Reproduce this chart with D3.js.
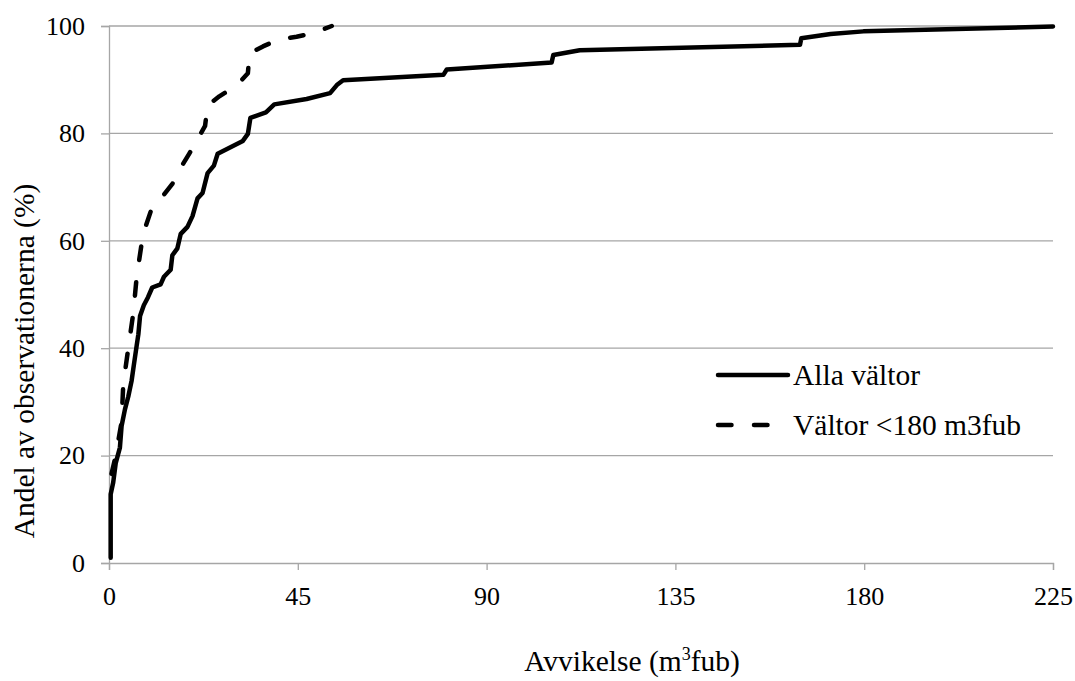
<!DOCTYPE html>
<html>
<head>
<meta charset="utf-8">
<script src="https://cdn.jsdelivr.net/npm/d3@7"></script>
<style>
  body { margin: 0; background: #fff; }
</style>
</head>
<body>
<div id="chart"></div>
<script>
// Cumulative share of observations vs deviation (m3fub)
const allaX = [0.4, 0.4, 1.0, 1.6, 2.6, 3.0, 3.8, 4.6, 5.4, 6.0, 6.6, 7.0, 7.4, 8.3, 9.3, 10.3, 12.3, 13.1, 14.7, 15.1,
  16.3, 17.1, 18.7, 19.9, 21.1, 22.3, 23.5, 25.0, 25.9, 31.9, 33.1, 33.7, 37.4, 39.4, 47.1, 52.7, 54.3, 55.8,
  79.7, 80.5, 105.5, 105.9, 112.2, 164.7, 165.0, 172.0, 179.8, 225.0];
const allaY = [1.0, 12.8, 15.0, 18.6, 21.5, 25.5, 28.6, 31.0, 34.0, 37.3, 40.5, 42.6, 46.0, 48.0, 49.5, 51.3, 51.9, 53.3, 54.6, 57.3,
  58.6, 61.3, 62.6, 64.6, 67.9, 68.9, 72.6, 74.0, 76.2, 78.6, 79.9, 82.9, 83.9, 85.4, 86.4, 87.5, 89.0, 89.9,
  90.9, 91.9, 93.2, 94.6, 95.5, 96.5, 97.7, 98.5, 99.0, 99.9];

const smallX = [0.6, 1.6, 3.0, 3.4, 4.6, 5.8, 6.6, 7.8, 8.7, 10.0, 12.7, 15.1, 17.1, 19.1, 21.1, 22.9, 23.5, 26.3,
  30.4, 33.1, 33.5, 36.7, 40.5, 44.7, 48.7, 53.1];
const smallY = [16.6, 20.0, 26.3, 33.3, 40.0, 46.6, 53.3, 59.6, 62.6, 65.6, 68.2, 70.6, 73.6, 76.2, 78.9, 81.4, 85.2, 86.9,
  88.9, 91.2, 94.9, 96.2, 97.5, 98.0, 98.7, 100.0];

const xTicks = [0, 45, 90, 135, 180, 225];
const yTicks = [0, 20, 40, 60, 80, 100];
const seriesNames = ["Alla vältor", "Vältor <180 m3fub"];

const width = 1075, height = 681;
const margin = { top: 26, right: 22, bottom: 118, left: 109 };
const fontFam = "'Liberation Serif', 'Times New Roman', Tinos, serif";
const dash = "13.5,22.5";

const svg = d3.select("#chart").append("svg")
  .attr("width", width)
  .attr("height", height)
  .style("font-family", fontFam);

const x = d3.scaleLinear().domain([0, 225]).range([margin.left, width - margin.right]);
const y = d3.scaleLinear().domain([0, 100]).range([height - margin.bottom, margin.top]);

const gridColor = "#a6a6a6";

// horizontal gridlines
svg.append("g")
  .selectAll("line")
  .data(yTicks.filter(d => d > 0))
  .enter().append("line")
  .attr("x1", x(0)).attr("x2", x(225))
  .attr("y1", d => y(d)).attr("y2", d => y(d))
  .attr("stroke", gridColor)
  .attr("stroke-width", 1.3);

// x axis
const xAxis = svg.append("g")
  .attr("transform", `translate(0,${y(0)})`)
  .call(d3.axisBottom(x).tickValues(xTicks).tickSize(7).tickPadding(17));

// y axis
const yAxis = svg.append("g")
  .attr("transform", `translate(${x(0)},0)`)
  .call(d3.axisLeft(y).tickValues(yTicks).tickSize(8).tickPadding(16));

[xAxis, yAxis].forEach(a => {
  a.attr("font-family", null);
  a.select(".domain").attr("stroke", gridColor).attr("stroke-width", 1.3);
  a.selectAll(".tick line").attr("stroke", gridColor).attr("stroke-width", 1.3);
  a.selectAll("text")
    .style("font-family", fontFam)
    .attr("font-size", 26)
    .attr("fill", "#000");
});

// series lines
const line = d3.line().x(d => x(d[0])).y(d => y(d[1]));
const allaData = allaX.map((v, i) => [v, allaY[i]]);
const smallData = smallX.map((v, i) => [v, smallY[i]]);

svg.append("path")
  .datum(allaData)
  .attr("d", line)
  .attr("fill", "none")
  .attr("stroke", "#000")
  .attr("stroke-width", 4.5)
  .attr("stroke-linejoin", "round")
  .attr("stroke-linecap", "round");

svg.append("path")
  .datum(smallData)
  .attr("d", line)
  .attr("fill", "none")
  .attr("stroke", "#000")
  .attr("stroke-width", 4.5)
  .attr("stroke-dasharray", dash)
  .attr("stroke-linejoin", "round")
  .attr("stroke-linecap", "round");

// legend
const legend = svg.append("g").attr("transform", "translate(718,0)");
const legendRows = [
  { name: seriesNames[0], y: 375, dash: null },
  { name: seriesNames[1], y: 425, dash: dash }
];
legendRows.forEach(r => {
  legend.append("line")
    .attr("x1", 0).attr("x2", 70)
    .attr("y1", r.y).attr("y2", r.y)
    .attr("stroke", "#000")
    .attr("stroke-width", 4.5)
    .attr("stroke-linecap", "round")
    .attr("stroke-dasharray", r.dash);
  legend.append("text")
    .attr("x", 75)
    .attr("y", r.y + 10)
    .attr("font-size", 29.5)
    .style("font-family", fontFam)
    .text(r.name);
});

// axis titles
svg.append("text")
  .attr("transform", "translate(34,361) rotate(-90)")
  .attr("text-anchor", "middle")
  .attr("font-size", 29.5)
  .style("font-family", fontFam)
  .text("Andel av observationerna (%)");

const xTitle = svg.append("text")
  .attr("x", 632)
  .attr("y", 671)
  .attr("text-anchor", "middle")
  .attr("font-size", 29.5)
  .style("font-family", fontFam);
xTitle.append("tspan").text("Avvikelse (m");
xTitle.append("tspan").attr("font-size", 18).attr("dy", -11).text("3");
xTitle.append("tspan").attr("dy", 11).text("fub)");
</script>
</body>
</html>
